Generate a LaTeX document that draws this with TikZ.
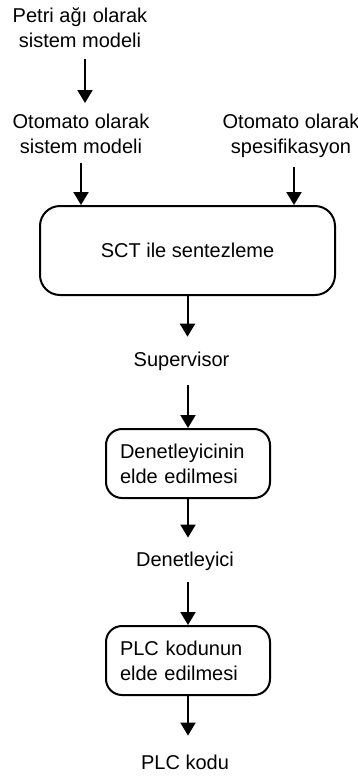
\documentclass[tikz,border=0pt]{standalone}
\usepackage{fontspec}
\setmainfont{Liberation Sans}
\usetikzlibrary{arrows.meta}
\begin{document}
\begin{tikzpicture}[x=1pt,y=-1pt,
  txt/.style={inner sep=0pt, align=center, font=\fontsize{20}{24.8}\selectfont},
  procbox/.style={draw, line width=2pt, rounded corners=16pt, inner ysep=0pt,
    inner xsep=14pt, text width=136pt, align=left, minimum height=69pt,
    font=\fontsize{20}{24.8}\selectfont},
  bigbox/.style={txt, draw, line width=2pt, rounded corners=20pt,
    minimum width=295pt, minimum height=89pt},
  arr/.style={-{Triangle[length=13pt,width=15pt]}, line width=2pt}]
\useasboundingbox (0,0) rectangle (358,780);

% inputs
\node[txt, anchor=north] (petri) at (80,7.5) {Petri ağı olarak\\sistem modeli};
\node[txt, anchor=north] (oto1) at (81,113.8) {Otomato olarak\\sistem modeli};
\node[txt, anchor=north] (oto2) at (291,113.8) {Otomato olarak\\spesifikasyon};

% synthesis
\node[bigbox] (sct) at (187.5,250.5) {SCT ile sentezleme};
\node[txt, anchor=base] (sup) at (181.5,366) {Supervisor};

% controller
\node[procbox] (box2) at (188,463.5) {Denetleyicinin\\elde edilmesi};
\node[txt, anchor=base] (den) at (185,566) {Denetleyici};

% PLC code
\node[procbox] (box3) at (188,660.5) {PLC kodunun\\elde edilmesi};
\node[txt, anchor=base] (plc) at (185,769.3) {PLC kodu};

% connectors
\draw[arr, shorten <=11.3pt, shorten >=10.8pt] ([xshift=5pt]petri.south) -- ([xshift=4pt]oto1.north);
\draw[arr, shorten <=9.8pt] (oto1.south) -- (oto1.south |- sct.north);
\draw[arr, shorten <=9.8pt] ([xshift=3pt]oto2.south) -- ([xshift=3pt]oto2.south |- sct.north);
\draw[arr, shorten >=14.6pt] (sct.south) -- (sct.south |- sup.north);
\draw[arr, shorten <=14.8pt] (sup.south -| box2.north) -- (box2.north);
\draw[arr, shorten >=13.7pt] (box2.south) -- (box2.south |- den.north);
\draw[arr, shorten <=11.8pt] (den.south -| box3.north) -- (box3.north);
\draw[arr, shorten >=19pt] (box3.south) -- (box3.south |- plc.north);
\end{tikzpicture}
\end{document}
